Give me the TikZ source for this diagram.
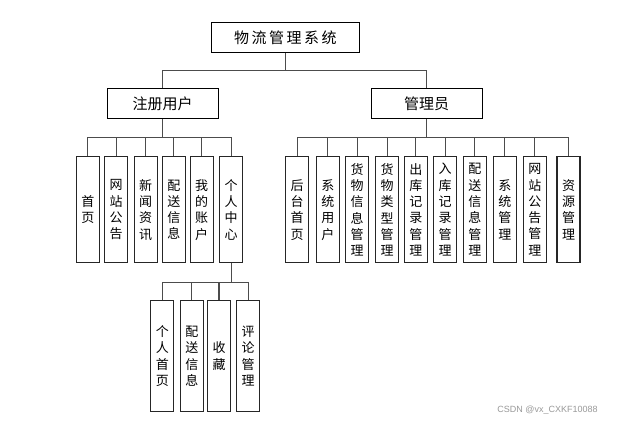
\documentclass[tikz,border=0pt]{standalone}
\usepackage{fontspec}
\newfontfamily\cjk{Noto Sans CJK SC}
\newfontfamily\wmfont{Liberation Sans}
\begin{document}
\begin{tikzpicture}[x=1pt,y=-1pt,
  headbox/.style={draw=black,line width=1pt,minimum width=111pt,minimum height=30pt,inner sep=0pt,font=\cjk\fontsize{15}{18}\selectfont},
  leafbox/.style={draw=black!85,line width=1.2pt,minimum width=23pt,minimum height=106pt,inner sep=0pt,align=center,font=\cjk\fontsize{13}{16.3}\selectfont},
  lowbox/.style={leafbox,minimum height=111pt},
  link/.style={draw=black!70,line width=1.2pt}]
\useasboundingbox (0,0) rectangle (628,422);
\fill[white] (0,0) rectangle (628,422);
% top
\node[headbox,minimum width=148pt] (top) at (285.3,37.3) {物\kern2.5pt 流\kern2.5pt 管\kern2.5pt 理\kern2.5pt 系\kern2.5pt 统};
\node[headbox] (user) at (162.6,104) {注册用户};
\node[headbox] (admin) at (426.6,104) {管理员};
\draw[link] (top.south) -- ++(0,17.7) -| (user.north);
\draw[link] (top.south) -- ++(0,17.7) -| (admin.north);
% left children
\foreach \n/\x/\t in {u1/87.8/{首\\页},u2/116.2/{网\\站\\公\\告},u3/145.7/{新\\闻\\资\\讯},u4/173.8/{配\\送\\信\\息},u5/201.7/{我\\的\\账\\户},u6/231.2/{个\\人\\中\\心}}{
  \node[leafbox] (\n) at (\x,209.7) {\t};
  \draw[link] (user.south) -- ++(0,18.3) -| (\n.north);
}
% right children
\foreach \n/\x/\t in {a1/297.2/{后\\台\\首\\页},a2/327.8/{系\\统\\用\\户},a3/357.2/{货\\物\\信\\息\\管\\理},a4/387.2/{货\\物\\类\\型\\管\\理},a5/415.8/{出\\库\\记\\录\\管\\理},a6/445.2/{入\\库\\记\\录\\管\\理},a7/474.8/{配\\送\\信\\息\\管\\理},a8/504.8/{系\\统\\管\\理},a9/534.8/{网\\站\\公\\告\\管\\理},a10/568.5/{资\\源\\管\\理}}{
  \node[leafbox] (\n) at (\x,209.7) {\t};
  \draw[link] (admin.south) -- ++(0,18.3) -| (\n.north);
}
% bottom children
\foreach \n/\x/\t in {p1/162.3/{个\\人\\首\\页},p2/191.8/{配\\送\\信\\息},p3/219/{收\\藏},p4/248.2/{评\\论\\管\\理}}{
  \node[lowbox] (\n) at (\x,356.2) {\t};
  \draw[link] (u6.south) -- ++(0,19.3) -| (\n.north);
}
\node[font=\wmfont\fontsize{9}{11}\selectfont,text=black!40,inner sep=0pt] (wm) at (547.5,410.5) {CSDN @vx\_CXKF10088};
\end{tikzpicture}
\end{document}
